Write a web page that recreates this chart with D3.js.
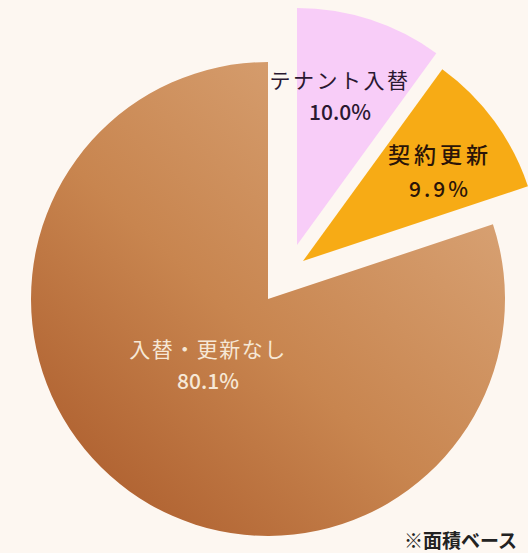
<!DOCTYPE html>
<html>
<head>
<meta charset="utf-8">
<script src="https://cdn.jsdelivr.net/npm/d3@7"></script>
<style>
  html, body { margin: 0; padding: 0; background: #fdf7f1; }
  svg { display: block; }
  text { font-family: "Noto Sans CJK JP", "Noto Sans", sans-serif; }
</style>
</head>
<body>
<svg id="chart" width="528" height="553"></svg>
<script>
// Share of leased floor area by contract outcome (%)
const categories = ["テナント入替", "契約更新", "入替・更新なし"];
const values = [10.0, 9.9, 80.1];
const valueLabels = ["10.0%", "9.9%", "80.1%"];
const note = "※面積ベース";

const W = 528, H = 553;
const cx = 268, cy = 299, R = 237;

const fills = ["#f8cdf8", "#f7ab15", "url(#brownGrad)"];
// exploded slices are pulled away from the centre
const offsets = [[29, -54], [35, -38], [0, 0]];
// label anchor points, relative to the pie centre
const labelPos = [[72, -211], [172, -136], [-60, 58]];
const labelColor = ["#2a1830", "#2a1408", "#f6e8d6"];

const svg = d3.select("#chart");
const defs = svg.append("defs");
const grad = defs.append("linearGradient")
  .attr("id", "brownGrad")
  .attr("gradientUnits", "userSpaceOnUse")
  .attr("x1", cx + 190).attr("y1", cy - 190)
  .attr("x2", cx - 170).attr("y2", cy + 200);
grad.append("stop").attr("offset", 0).attr("stop-color", "#d8a274");
grad.append("stop").attr("offset", 0.5).attr("stop-color", "#c8854f");
grad.append("stop").attr("offset", 1).attr("stop-color", "#ab5b2b");

const pie = d3.pie().sort(null).value(d => d)
  .startAngle(0).endAngle(2 * Math.PI);
const arcs = pie(values);
const arc = d3.arc().innerRadius(0).outerRadius(R);

const g = svg.append("g").attr("transform", `translate(${cx},${cy})`);

g.selectAll("path.slice")
  .data(arcs)
  .join("path")
  .attr("class", "slice")
  .attr("transform", (d, i) => `translate(${offsets[i][0]},${offsets[i][1]})`)
  .attr("d", arc)
  .attr("fill", (d, i) => fills[i]);

const labels = g.selectAll("g.label")
  .data(arcs)
  .join("g")
  .attr("class", "label")
  .attr("transform", (d, i) => `translate(${labelPos[i][0]},${labelPos[i][1]})`);

labels.append("text")
  .attr("text-anchor", "middle")
  .attr("font-size", (d, i) => i === 1 ? 22 : 21)
  .attr("letter-spacing", (d, i) => i === 1 ? 4 : (i === 2 ? 1.5 : 2.5))
  .attr("font-weight", (d, i) => i === 1 ? 500 : 400)
  .attr("fill", (d, i) => labelColor[i])
  .text((d, i) => categories[i]);

labels.append("text")
  .attr("text-anchor", "middle")
  .attr("y", (d, i) => i === 1 ? 34 : 32)
  .attr("font-size", 21)
  .attr("font-weight", 500)
  .attr("letter-spacing", (d, i) => i === 1 ? 3 : 0)
  .attr("fill", (d, i) => labelColor[i])
  .text((d, i) => valueLabels[i]);

svg.append("text")
  .attr("x", 517).attr("y", 548)
  .attr("text-anchor", "end")
  .attr("font-size", 19)
  .attr("font-weight", 700)
  .attr("fill", "#222")
  .text(note);
</script>
</body>
</html>
